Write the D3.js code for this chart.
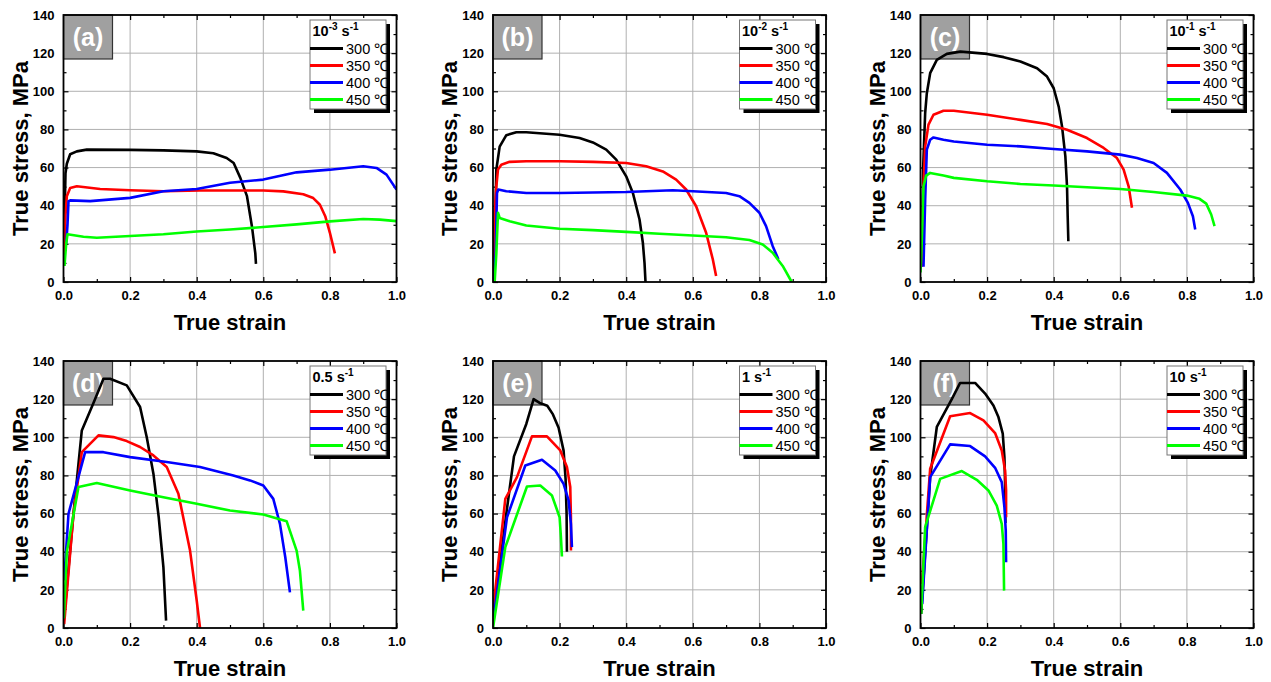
<!DOCTYPE html>
<html><head><meta charset="utf-8">
<script src="https://cdn.jsdelivr.net/npm/d3@7"></script>
<style>body{margin:0;background:#fff}svg{display:block}</style>
</head><body>
<svg id="c" width="1271" height="682"></svg>
<script>
// ---- Data (strain, stress MPa) ----
const xTicks = [0, 0.2, 0.4, 0.6, 0.8, 1.0];
const yTicks = [0, 20, 40, 60, 80, 100, 120, 140];
const seriesNames = ["300 ℃", "350 ℃", "400 ℃", "450 ℃"];
const panelIds = ["(a)", "(b)", "(c)", "(d)", "(e)", "(f)"];
const rateBase = ["10", "10", "10", "0.5", "1", "10"];
const rateExp = ["-3", "-2", "-1", null, null, null];

// (a) 10^-3 s^-1
const a300 = [[0.002,10],[0.004,40],[0.006,57],[0.01,62],[0.02,67],[0.04,68.5],[0.07,69.4],[0.2,69.3],[0.3,69],[0.4,68.5],[0.45,67.5],[0.49,65],[0.511,62.4],[0.531,54.6],[0.551,45],[0.566,29],[0.576,15],[0.578,9.5]];
const a350 = [[0.003,15],[0.006,35],[0.01,45],[0.02,49.3],[0.04,50.2],[0.11,48.8],[0.2,48.1],[0.3,47.6],[0.41,48],[0.5,48],[0.6,48],[0.66,47.5],[0.72,46],[0.75,44],[0.77,40.5],[0.786,34.5],[0.8,25.8],[0.815,15]];
const a400 = [[0.008,20],[0.012,30],[0.015,42.4],[0.02,42.8],[0.08,42.4],[0.2,44.1],[0.3,47.6],[0.4,48.8],[0.5,52],[0.6,53.7],[0.7,57.5],[0.8,58.9],[0.9,60.7],[0.94,59.8],[0.97,56.3],[1.0,48.5]];
const a450 = [[0.003,8.4],[0.008,20],[0.012,25],[0.06,23.7],[0.1,23.2],[0.2,24.1],[0.3,25],[0.4,26.5],[0.5,27.5],[0.6,28.8],[0.7,30.2],[0.8,31.8],[0.9,33],[0.95,32.7],[1.0,31.9]];

// (b) 10^-2 s^-1
const b300 = [[0.003,0],[0.006,25],[0.01,59],[0.02,71],[0.04,77],[0.07,78.5],[0.1,78.5],[0.2,77.2],[0.26,75.5],[0.3,73.2],[0.34,69.4],[0.37,64.2],[0.4,55.4],[0.42,46.7],[0.44,32.8],[0.45,20.6],[0.455,10],[0.458,0]];
const b350 = [[0.001,0],[0.005,36],[0.01,50],[0.015,59],[0.025,61.5],[0.05,63],[0.1,63.3],[0.2,63.3],[0.3,63],[0.4,62.4],[0.46,60.7],[0.51,58],[0.55,53.7],[0.58,48.5],[0.61,39.7],[0.64,25.8],[0.66,11.9],[0.67,3.1]];
const b400 = [[0.002,0],[0.008,15],[0.012,46.7],[0.016,48.5],[0.04,47.6],[0.1,46.7],[0.2,46.7],[0.4,47.2],[0.54,48.1],[0.6,47.6],[0.7,46.7],[0.74,45],[0.77,41.5],[0.8,36.3],[0.82,29.3],[0.84,18.8],[0.857,11.9]];
const b450 = [[0.005,0],[0.01,15],[0.015,36.3],[0.02,33.6],[0.05,31.9],[0.1,29.6],[0.2,27.9],[0.3,27.2],[0.4,26.3],[0.5,25.3],[0.6,24.4],[0.7,23.5],[0.77,22],[0.81,19.7],[0.84,15.3],[0.87,8.4],[0.897,0]];

// (c) 10^-1 s^-1
const c300 = [[0.003,10],[0.008,60],[0.014,88.6],[0.019,99],[0.029,109.5],[0.049,116.5],[0.079,119.6],[0.12,120.8],[0.2,119.6],[0.25,117.9],[0.3,115.6],[0.35,112.1],[0.38,107.7],[0.4,101.6],[0.415,92],[0.425,81.6],[0.435,65.9],[0.44,50.2],[0.442,34.5],[0.444,21.4]];
const c350 = [[0.004,8],[0.009,50],[0.014,71],[0.024,82.5],[0.039,87.7],[0.069,89.8],[0.1,89.8],[0.2,87.7],[0.3,85],[0.38,82.8],[0.44,79.8],[0.5,75.5],[0.55,70.3],[0.59,65],[0.61,58.9],[0.625,50.2],[0.635,38.9]];
const c400 = [[0.009,8],[0.014,43],[0.019,69.4],[0.029,74.6],[0.039,75.8],[0.069,74.6],[0.1,73.7],[0.2,72],[0.3,71.1],[0.4,69.7],[0.5,68.5],[0.6,66.8],[0.65,65],[0.7,62.4],[0.74,57.2],[0.78,48.5],[0.803,41.5],[0.818,34.5],[0.825,27.5]];
const c450 = [[0.0,5],[0.004,22],[0.009,50.2],[0.017,55.8],[0.029,57.2],[0.069,55.8],[0.1,54.6],[0.2,52.8],[0.3,51.4],[0.4,50.6],[0.5,49.7],[0.6,48.8],[0.7,47.2],[0.8,45.3],[0.838,43.6],[0.858,41.1],[0.873,35.4],[0.883,29.3]];

// (d) 0.5 s^-1
const d300 = [[0.003,8],[0.03,60],[0.055,103.6],[0.09,118],[0.12,130.7],[0.14,130.7],[0.19,127.2],[0.23,115.9],[0.25,100],[0.27,80.9],[0.286,58],[0.3,31.9],[0.308,3.9]];
const d350 = [[0.002,2],[0.03,60],[0.055,92.2],[0.105,101],[0.15,100.1],[0.19,98],[0.23,94.9],[0.27,90.5],[0.31,84.4],[0.345,70.4],[0.38,40.6],[0.4,14.4],[0.41,0]];
const d400 = [[0.002,25],[0.015,59.9],[0.065,92.2],[0.12,92.2],[0.2,89.6],[0.31,87],[0.41,84.4],[0.51,80],[0.56,77.4],[0.6,74.7],[0.63,67.7],[0.65,54.6],[0.666,37.1],[0.68,18.7]];
const d450 = [[0.001,5],[0.01,40],[0.045,73.9],[0.1,76],[0.2,72.1],[0.3,68.6],[0.4,65.1],[0.5,61.6],[0.6,59.5],[0.67,56],[0.7,40.6],[0.71,30],[0.72,9.1]];

// (e) 1 s^-1
const e300 = [[0.002,8],[0.04,60],[0.063,90],[0.1,107],[0.122,120],[0.14,118],[0.163,116.5],[0.18,112],[0.197,105],[0.212,93],[0.218,78],[0.221,60],[0.222,40]];
const e350 = [[0.0,9],[0.037,67.7],[0.072,79.1],[0.117,100.5],[0.162,100.5],[0.202,93.1],[0.222,84.4],[0.232,73.9],[0.234,58.1],[0.234,40.6]];
const e400 = [[0.002,5.6],[0.042,58],[0.097,85.2],[0.147,88.2],[0.187,82.6],[0.212,75.6],[0.227,66.9],[0.234,54.6],[0.237,42.4]];
const e450 = [[0.0,0],[0.037,42.4],[0.102,74.2],[0.142,74.7],[0.177,69.5],[0.2,58.1],[0.204,47.6],[0.207,37.5]];

// (f) 10 s^-1
const f300 = [[0.002,7.4],[0.029,79.1],[0.049,105.4],[0.094,120],[0.119,128.5],[0.164,128.5],[0.194,122.9],[0.219,116.7],[0.234,110.6],[0.247,101.9],[0.252,89.6],[0.254,75.6],[0.255,55]];
const f350 = [[0.004,23],[0.029,83.5],[0.089,111],[0.149,112.7],[0.189,108.9],[0.224,102.2],[0.244,93.1],[0.254,82.6],[0.257,72.1],[0.257,58.1]];
const f400 = [[0.005,12.6],[0.029,79.1],[0.089,96.3],[0.149,95.4],[0.194,90],[0.224,84],[0.244,76.5],[0.252,63.4],[0.256,51.1],[0.257,34.5]];
const f450 = [[0.002,7.4],[0.014,52.9],[0.059,78.2],[0.124,82.3],[0.169,77.7],[0.204,72.1],[0.229,64.2],[0.244,54.6],[0.249,44.1],[0.251,19.6]];

const colors = ["#000000", "#ff0000", "#0000ff", "#00ff00"];
const panelSeries = [[a300,a350,a400,a450],[b300,b350,b400,b450],[c300,c350,c400,c450],
                     [d300,d350,d400,d450],[e300,e350,e400,e450],[f300,f350,f400,f450]];

// ---- Layout ----
const svg = d3.select("#c");
const colLeft = [63.5, 493, 920.5];
const rowTop = [15, 361];
const W = 333, H = 267;
const FONT = "Liberation Sans, Arial, sans-serif";

panelIds.forEach((pid, i) => {
  const L = colLeft[i % 3], T = rowTop[Math.floor(i / 3)];
  const g = svg.append("g").attr("transform", `translate(${L},${T})`);
  const x = d3.scaleLinear().domain([0, 1]).range([0, W]);
  const y = d3.scaleLinear().domain([0, 140]).range([H, 0]);

  // grid
  g.append("g").selectAll("line").data(xTicks.slice(1, -1)).join("line")
    .attr("x1", d => x(d)).attr("x2", d => x(d)).attr("y1", 0).attr("y2", H)
    .attr("stroke", "#b0b0b0").attr("stroke-width", 1);
  g.append("g").selectAll("line").data(yTicks.slice(1, -1)).join("line")
    .attr("y1", d => y(d)).attr("y2", d => y(d)).attr("x1", 0).attr("x2", W)
    .attr("stroke", "#b0b0b0").attr("stroke-width", 1);

  // axes with inward ticks
  const minorX = d3.range(0.1, 1.0, 0.2);
  const minorY = d3.range(10, 140, 20);
  const axB = d3.axisBottom(x).tickValues(xTicks).tickFormat(d3.format(".1f")).tickSizeInner(-5).tickSizeOuter(0).tickPadding(9);
  const axL = d3.axisLeft(y).tickValues(yTicks).tickFormat(d3.format("d")).tickSizeInner(-5).tickSizeOuter(0).tickPadding(9);
  const gb = g.append("g").attr("transform", `translate(0,${H})`).call(axB);
  const gl = g.append("g").call(axL);
  g.append("g").call(d3.axisTop(x).tickValues(xTicks).tickFormat("").tickSizeInner(-5).tickSizeOuter(0));
  g.append("g").attr("transform", `translate(${W},0)`).call(d3.axisRight(y).tickValues(yTicks).tickFormat("").tickSizeInner(-5).tickSizeOuter(0));
  g.append("g").attr("transform", `translate(0,${H})`).call(d3.axisBottom(x).tickValues(minorX).tickFormat("").tickSizeInner(-3).tickSizeOuter(0));
  g.append("g").call(d3.axisTop(x).tickValues(minorX).tickFormat("").tickSizeInner(-3).tickSizeOuter(0));
  g.append("g").call(d3.axisLeft(y).tickValues(minorY).tickFormat("").tickSizeInner(-3).tickSizeOuter(0));
  g.append("g").attr("transform", `translate(${W},0)`).call(d3.axisRight(y).tickValues(minorY).tickFormat("").tickSizeInner(-3).tickSizeOuter(0));
  g.selectAll(".domain").remove();
  g.selectAll(".tick line").attr("stroke", "#000").attr("stroke-width", 1.2);
  [gb, gl].forEach(a => a.selectAll("text").attr("font-family", FONT).attr("font-size", 13)
    .attr("font-weight", "bold").attr("fill", "#000"));

  // panel label box
  g.append("rect").attr("x", 0).attr("y", 0).attr("width", 49).attr("height", 44)
    .attr("fill", "#a0a0a0").attr("stroke", "#333").attr("stroke-width", 1.2);
  g.append("text").attr("x", 24.5).attr("y", 31).attr("text-anchor", "middle")
    .attr("font-family", FONT).attr("font-weight", "bold").attr("font-size", 25)
    .attr("fill", "#fff").text(pid);

  // curves
  const line = d3.line().x(d => x(d[0])).y(d => y(d[1]));
  const clip = "clip" + i;
  g.append("clipPath").attr("id", clip).append("rect").attr("width", W).attr("height", H);
  panelSeries[i].forEach((s, k) => {
    g.append("path").datum(s).attr("d", line).attr("fill", "none")
      .attr("stroke", colors[k]).attr("stroke-width", 2.6)
      .attr("stroke-linejoin", "round").attr("clip-path", `url(#${clip})`);
  });

  // frame
  g.append("rect").attr("width", W).attr("height", H).attr("fill", "none")
    .attr("stroke", "#000").attr("stroke-width", 1.8);

  // legend
  const lg = g.append("g").attr("transform", `translate(246.5,5)`);
  lg.append("rect").attr("x", 4).attr("y", 4).attr("width", 76).attr("height", 89).attr("fill", "#000");
  lg.append("rect").attr("width", 76).attr("height", 89).attr("fill", "#fff").attr("stroke", "#777").attr("stroke-width", 1);
  const tt = lg.append("text").attr("x", 2.5).attr("y", 16).attr("font-family", FONT)
    .attr("font-weight", "bold").attr("font-size", 14.5).attr("fill", "#000");
  tt.append("tspan").text(rateBase[i]);
  if (rateExp[i]) tt.append("tspan").attr("dy", -6).attr("font-size", 10).text(rateExp[i]);
  tt.append("tspan").attr("dy", rateExp[i] ? 6 : 0).text(" s");
  tt.append("tspan").attr("dy", -6).attr("font-size", 10).text("-1");
  seriesNames.forEach((nm, k) => {
    const yy = 28.5 + k * 17;
    lg.append("line").attr("x1", 0).attr("x2", 33).attr("y1", yy).attr("y2", yy)
      .attr("stroke", colors[k]).attr("stroke-width", 3);
    lg.append("text").attr("x", 36).attr("y", yy + 5).attr("font-family", FONT)
      .attr("font-size", 14.5).attr("fill", "#000").text(nm);
  });

  // axis titles
  g.append("text").attr("x", W / 2).attr("y", H + 48).attr("text-anchor", "middle")
    .attr("font-family", FONT).attr("font-weight", "bold").attr("font-size", 22).text("True strain");
  g.append("text").attr("transform", `translate(-36,${H / 2}) rotate(-90)`)
    .attr("text-anchor", "middle").attr("font-family", FONT).attr("font-weight", "bold")
    .attr("font-size", 22).text("True stress, MPa");
});
</script>
</body></html>
